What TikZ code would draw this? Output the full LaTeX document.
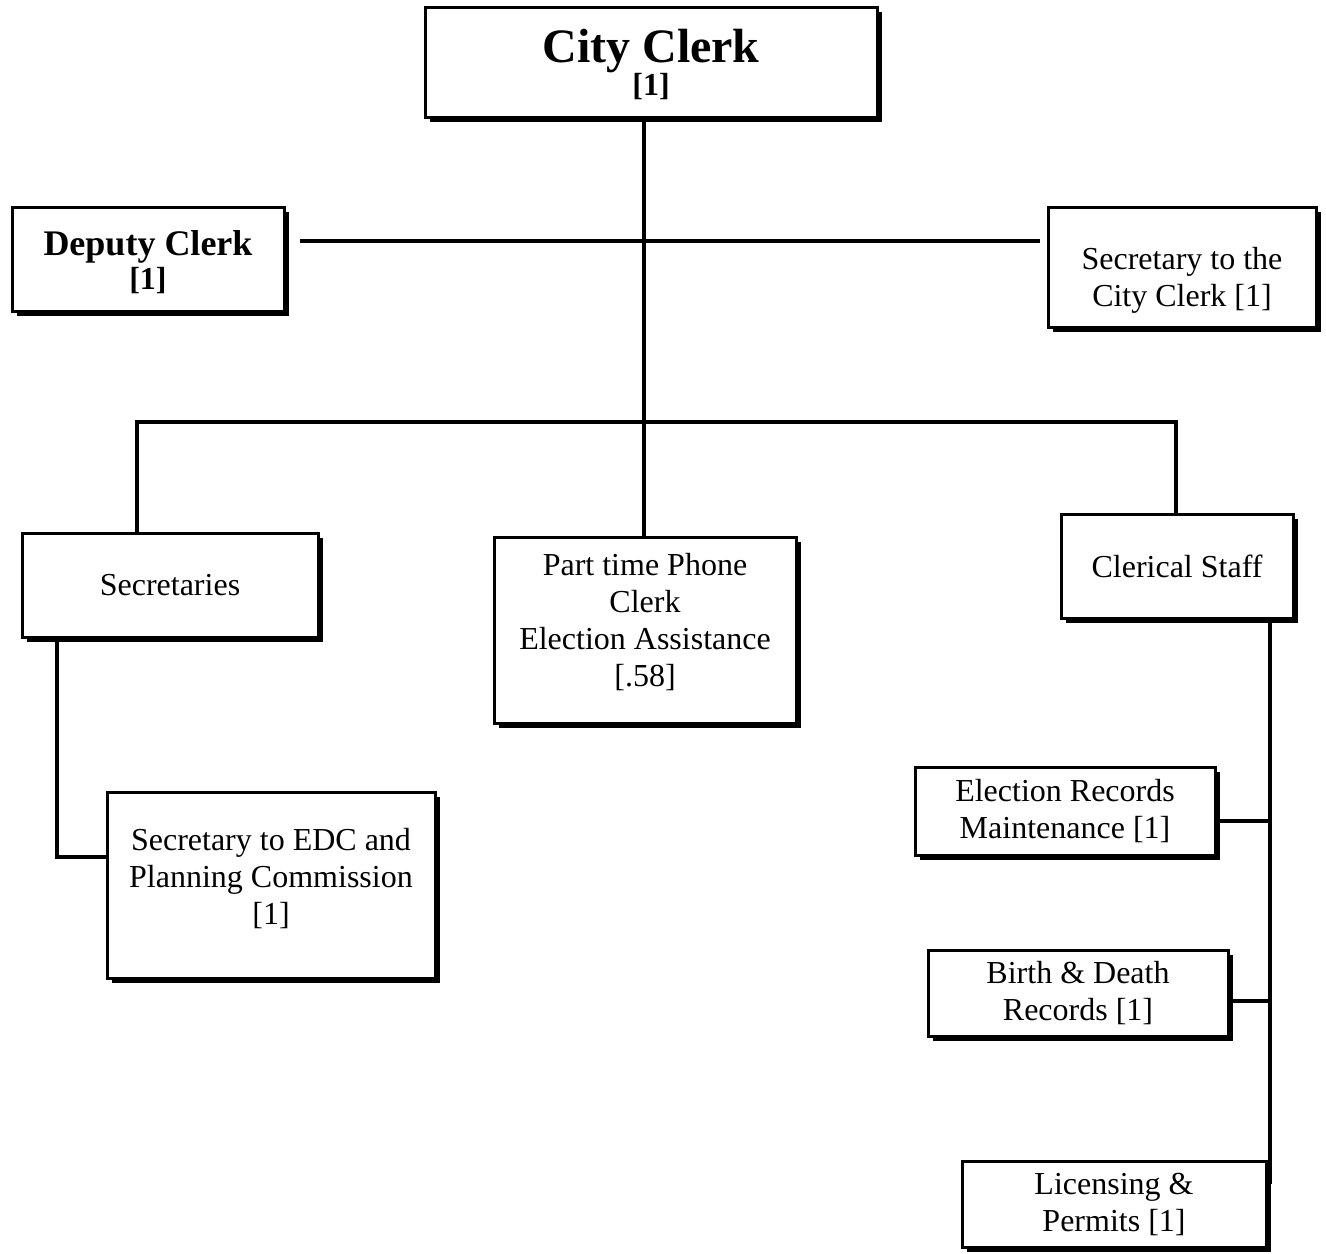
\documentclass[tikz,border=0pt]{standalone}
\usepackage{fontspec}
\setmainfont{Liberation Serif}
\usepackage{tikz}
\usetikzlibrary{positioning,shadows,calc}

\tikzset{
  orgbox/.style={draw=black, line width=1.5pt, fill=white, align=center,
    inner sep=2pt, font=\fontsize{16}{18.5}\selectfont,
    drop shadow={shadow xshift=2.5pt, shadow yshift=-2.5pt, fill=black, opacity=1}},
  orgline/.style={line width=1.6pt, line cap=rect}
}

\begin{document}
\begin{tikzpicture}[x=0.5pt,y=-0.5pt]
\useasboundingbox (0,0) rectangle (1326,1253);
% top of the chart
\node[orgbox, minimum width=226pt, minimum height=55pt] (cc) at (651,62)
  {{\fontsize{24}{24}\selectfont\bfseries\rule{0pt}{19.5pt}City Clerk}\\[-2pt]{\bfseries [1]}};
\node[orgbox, minimum width=136pt, minimum height=52pt, font=\fontsize{16}{17}\selectfont\bfseries] (dc) at (148,259)
  {{\fontsize{18}{18}\selectfont\rule{0pt}{15.5pt}Deputy Clerk}\\[0pt]{[1]}};
\node[orgbox, minimum width=134pt, minimum height=60pt] (scc) at (1182,267)
  {\rule{0pt}{24pt}Secretary to the\\ City Clerk [1]};
% second row
\node[orgbox, minimum width=148pt, minimum height=52pt] (sec) at (170,585) {Secretaries};
\node[orgbox, minimum width=151pt, minimum height=93pt] (pt) at (645,630)
  {Part time Phone\\ Clerk\\ Election Assistance\\{[.58]}\\[-8pt]\mbox{}};
\node[orgbox, minimum width=116pt, minimum height=52pt] (cs) at (1177,566) {Clerical Staff};
% lower boxes
\node[orgbox, minimum width=164pt, minimum height=93pt] (edc) at (271,885)
  {Secretary to EDC and\\ Planning Commission\\{[1]}\\[-10pt]\mbox{}};
\node[orgbox, minimum width=150pt, minimum height=44pt] (er) at (1065,811)
  {Election Records\\ Maintenance [1]};
\node[orgbox, minimum width=150pt, minimum height=43pt] (bd) at (1078,993)
  {Birth \& Death\\ Records [1]};
\node[orgbox, minimum width=152pt, minimum height=43pt] (lic) at (1114,1204)
  {Licensing \&\\ Permits [1]};

% connectors
\coordinate (tbar) at (644,241);
\coordinate (secup) at (137,422);
\coordinate (clup) at (1176,422);
\coordinate (secdn) at (57,857);
\coordinate (csdn) at (1270,1182);

\draw[orgline] (pt.north -| tbar) -- (cc.south -| tbar);
\draw[orgline] ([xshift=8pt]dc.east |- tbar) -- ([xshift=-4pt]scc.west |- tbar);
\draw[orgline] (sec.north -| secup) -- (secup) -- (clup) -- (cs.north -| clup);
\draw[orgline] (sec.south -| secdn) -- (secdn) -- (edc.west |- secdn);
\draw[orgline] (cs.south -| csdn) -- (csdn) -- (lic.east |- csdn);
\draw[orgline] ([yshift=-5pt]er.east) -- ([yshift=-5pt]er.east -| csdn);
\draw[orgline] ([yshift=-4pt]bd.east) -- ([yshift=-4pt]bd.east -| csdn);
\end{tikzpicture}
\end{document}
